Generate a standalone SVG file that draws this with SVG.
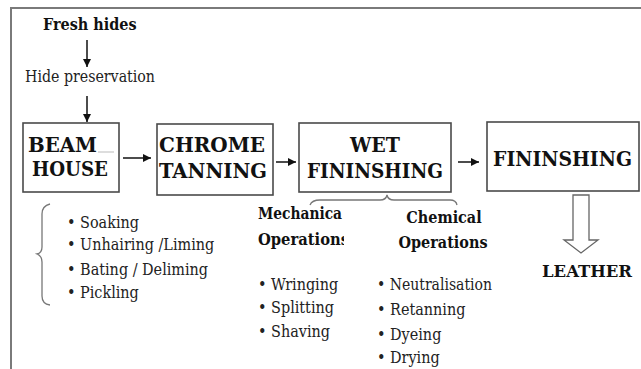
<svg xmlns="http://www.w3.org/2000/svg" width="641" height="369" viewBox="0 0 641 369">
<style>
.box{fill:#fff;stroke:#4a4a4a;stroke-width:1.6}
.bt{font-family:'DejaVu Serif Condensed','DejaVu Serif',serif;font-weight:bold;font-size:21px;fill:#111}
.hb{font-family:'DejaVu Serif Condensed','DejaVu Serif',serif;font-weight:bold;font-size:16px;fill:#111}
.tx{font-family:'DejaVu Serif Condensed','DejaVu Serif',serif;font-size:16px;fill:#222}
.arr{stroke:#111;stroke-width:1.5;fill:none;marker-end:url(#ah)}
.brace{stroke:#777;stroke-width:1.3;fill:none}
.frame{stroke:#7a7a7a;stroke-width:2;fill:none}
</style>
<defs>
<marker id="ah" viewBox="0 0 10 10" refX="10" refY="5" markerWidth="5.5" markerHeight="5.5" markerUnits="strokeWidth" orient="auto">
<path d="M0,0 L10,5 L0,10 Z" fill="#111"/>
</marker>
<clipPath id="mclip"><rect x="0" y="0" width="344" height="369"/></clipPath>
</defs>
<rect width="641" height="369" fill="#fff"/>
<path class="frame" d="M11,369 V8 H641"/>

<g id="fresh-hides"><text class="hb" x="43" y="30">Fresh hides</text></g>
<g id="hide-preservation"><text class="tx" x="25" y="82" textLength="130" lengthAdjust="spacingAndGlyphs">Hide preservation</text></g>

<g id="beam-house">
<rect class="box" x="23" y="123" width="96" height="69"/>
<line x1="98" y1="152" x2="114" y2="152" stroke="#bbb" stroke-width="1"/>
<text class="bt" x="28" y="152" textLength="69" lengthAdjust="spacingAndGlyphs">BEAM</text>
<text class="bt" x="32" y="176" textLength="76" lengthAdjust="spacingAndGlyphs">HOUSE</text>
</g>
<g id="chrome-tanning">
<rect class="box" x="157" y="124" width="116" height="71"/>
<text class="bt" x="159" y="152" textLength="106" lengthAdjust="spacingAndGlyphs">CHROME</text>
<text class="bt" x="159" y="178" textLength="108" lengthAdjust="spacingAndGlyphs">TANNING</text>
</g>
<g id="wet-finishing">
<rect class="box" x="299" y="123" width="152" height="69"/>
<text class="bt" x="350" y="152" textLength="50" lengthAdjust="spacingAndGlyphs">WET</text>
<text class="bt" x="307" y="178" textLength="136" lengthAdjust="spacingAndGlyphs">FININSHING</text>
</g>
<g id="finishing">
<rect class="box" x="487" y="122" width="152" height="69"/>
<text class="bt" x="493" y="166" textLength="139" lengthAdjust="spacingAndGlyphs">FININSHING</text>
</g>

<g id="beam-steps">
<path class="brace" d="M50,204 Q42,206 42,214 V247 Q42,253 37,254 Q42,256 42,262 V296 Q42,304 50,305"/>
<text class="tx" x="67" y="228">• Soaking</text>
<text class="tx" x="67" y="250">• Unhairing /Liming</text>
<text class="tx" x="67" y="275">• Bating / Deliming</text>
<text class="tx" x="67" y="298">• Pickling</text>
</g>

<g id="wet-brace">
<path class="brace" d="M310,205 Q312,200 320,200 H380 Q386,200 387,195 Q388,200 394,200 H450 Q456,200 457,205"/>
</g>

<g id="mechanical-operations">
<g clip-path="url(#mclip)">
<text class="hb" x="258" y="219" textLength="84" lengthAdjust="spacingAndGlyphs">Mechanica</text>
<text class="hb" x="258" y="245" textLength="91" lengthAdjust="spacingAndGlyphs">Operations</text>
</g>
<text class="tx" x="258" y="290">• Wringing</text>
<text class="tx" x="258" y="313">• Splitting</text>
<text class="tx" x="258" y="337">• Shaving</text>
</g>

<g id="chemical-operations">
<text class="hb" x="444" y="223" text-anchor="middle">Chemical</text>
<text class="hb" x="443" y="248" text-anchor="middle">Operations</text>
<text class="tx" x="377" y="290" textLength="115" lengthAdjust="spacingAndGlyphs">• Neutralisation</text>
<text class="tx" x="377" y="315">• Retanning</text>
<text class="tx" x="377" y="340">• Dyeing</text>
<text class="tx" x="377" y="363">• Drying</text>
</g>

<g id="leather">
<text class="hb" x="542" y="277" textLength="90" lengthAdjust="spacingAndGlyphs">LEATHER</text>
</g>

<g id="connectors">
<line class="arr" x1="87" y1="40" x2="87" y2="67"/>
<line class="arr" x1="87" y1="96" x2="87" y2="122"/>
<line class="arr" x1="123" y1="158" x2="151" y2="158"/>
<line class="arr" x1="276" y1="162" x2="296" y2="162"/>
<line class="arr" x1="458" y1="162" x2="479" y2="162"/>
<polygon points="573,195 589,195 589,240 598,240 581,253 564,240 573,240" fill="#fff" stroke="#666" stroke-width="1.3"/>
</g>
</svg>
